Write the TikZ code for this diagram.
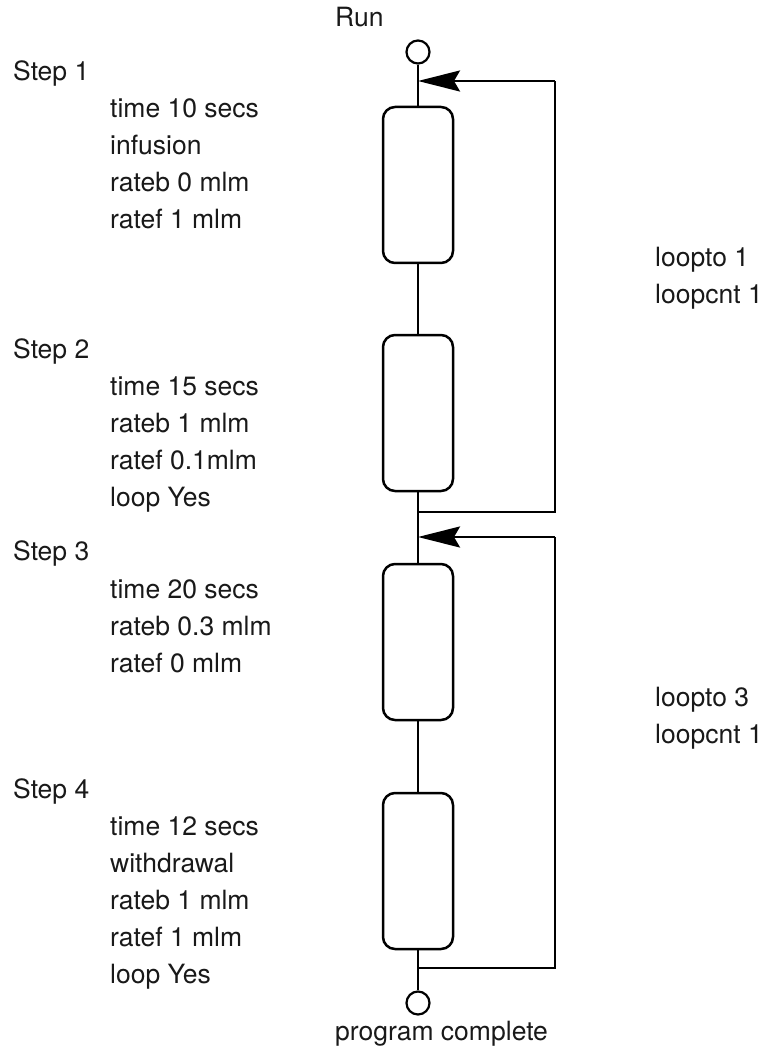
\documentclass[tikz,border=0pt]{standalone}
\usepackage{fontspec}
\setmainfont{TeX Gyre Heros}
\usetikzlibrary{arrows.meta,positioning}
\tikzset{
  stepbox/.style={draw, line width=2.5pt, rounded corners=12pt, minimum width=70pt, minimum height=156pt, inner sep=0pt},
  term/.style={draw, circle, line width=2.2pt, minimum size=23pt, inner sep=0pt},
  lbl/.style={anchor=base west, inner sep=0pt, font=\fontsize{26.5}{31}\selectfont, text=black!90},
  wire/.style={line width=2.5pt},
  back/.style={line width=2.5pt, -{Stealth[length=42pt,width=21pt,inset=6pt]}}
}
\begin{document}
\begin{tikzpicture}[x=1pt,y=-1pt]
\useasboundingbox (0,0) rectangle (773,1048);
% terminals and boxes
\node[term] (start) at (418,52) {};
\node[stepbox] (b1) at (418,185) {};
\node[stepbox] (b2) at (418,413) {};
\node[stepbox] (b3) at (418,642) {};
\node[stepbox] (b4) at (418,871) {};
\node[term] (stop) at (418,1003) {};
% coordinates on the main line and loop corners
\coordinate (j1) at (418,81);
\coordinate (j2) at (418,512);
\coordinate (j3) at (418,537);
\coordinate (j4) at (418,968);
\coordinate (r1) at (555,81);
\coordinate (r2) at (555,512);
\coordinate (r3) at (555,537);
\coordinate (r4) at (555,968);
% main line
\draw[wire] (start.south) -- (b1.north);
\draw[wire] (b1.south) -- (b2.north);
\draw[wire] (b2.south) -- (b3.north);
\draw[wire] (b3.south) -- (b4.north);
\draw[wire] (b4.south) -- (stop.north);
% loops
\draw[wire] (j2) -- (r2) -- (r1);
\draw[back] (r1) -- (j1);
\draw[wire] (j4) -- (r4) -- (r3);
\draw[back] (r3) -- (j3);
% labels
\node[lbl] (run) at (335,27) {Run};
\node[lbl] (done) at (335,1040) {program complete};
\node[lbl] (s1) at (13,81) {Step 1};
\node[lbl] (s1a) at (110,118) {time 10 secs};
\node[lbl] (s1b) at (110,155) {infusion};
\node[lbl] (s1c) at (110,192) {rateb 0 mlm};
\node[lbl] (s1d) at (110,229) {ratef 1 mlm};
\node[lbl] (s2) at (13,358) {Step 2};
\node[lbl] (s2a) at (110,395) {time 15 secs};
\node[lbl] (s2b) at (110,432) {rateb 1 mlm};
\node[lbl] (s2c) at (110,469) {ratef 0.1mlm};
\node[lbl] (s2d) at (110,506) {loop Yes};
\node[lbl] (s3) at (13,560) {Step 3};
\node[lbl] (s3a) at (110,598) {time 20 secs};
\node[lbl] (s3b) at (110,635) {rateb 0.3 mlm};
\node[lbl] (s3c) at (110,672) {ratef 0 mlm};
\node[lbl] (s4) at (13,798) {Step 4};
\node[lbl] (s4a) at (110,835) {time 12 secs};
\node[lbl] (s4b) at (110,872) {withdrawal};
\node[lbl] (s4c) at (110,909) {rateb 1 mlm};
\node[lbl] (s4d) at (110,946) {ratef 1 mlm};
\node[lbl] (s4e) at (110,983) {loop Yes};
\node[lbl] (l1a) at (655,267) {loopto 1};
\node[lbl] (l1b) at (655,303) {loopcnt 1};
\node[lbl] (l2a) at (655,706) {loopto 3};
\node[lbl] (l2b) at (655,743) {loopcnt 1};
\end{tikzpicture}
\end{document}
